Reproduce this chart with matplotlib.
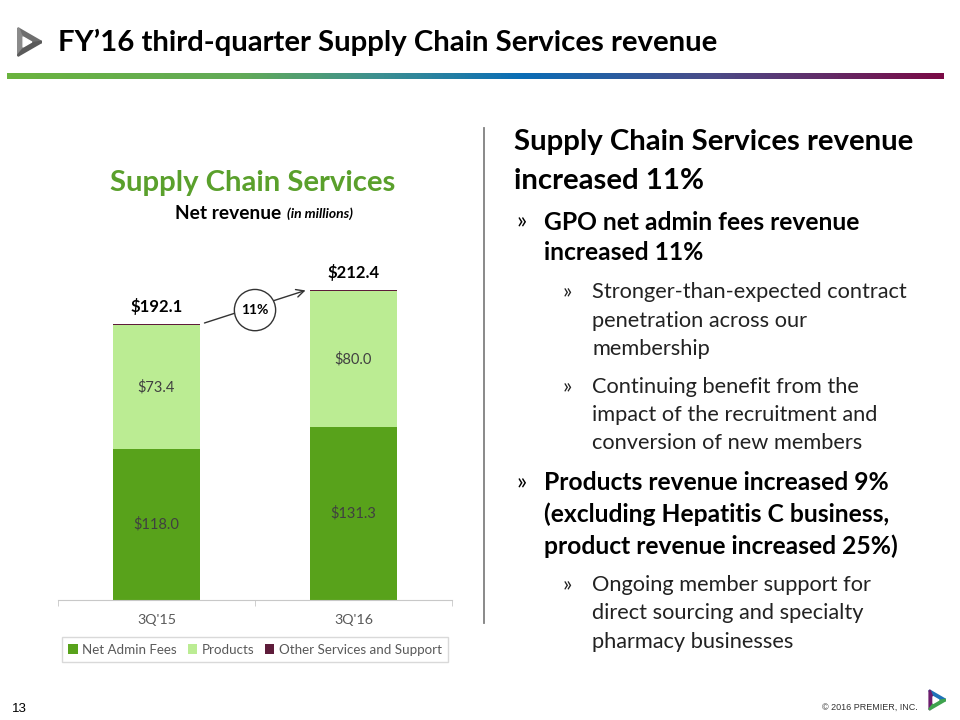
import numpy as np
import matplotlib
matplotlib.use("Agg")
import matplotlib.pyplot as plt
from matplotlib.colors import LinearSegmentedColormap
from matplotlib.patches import Polygon
from matplotlib.lines import Line2D

plt.rcParams['font.family'] = ['Lato', 'DejaVu Sans']

# data
quarters = ["3Q'15", "3Q'16"]
net_admin = [118.0, 131.3]
products = [73.4, 80.0]
totals = [192.1, 212.4]
other = [t - a - p for t, a, p in zip(totals, net_admin, products)]
growth = "11%"
series_names = ["Net Admin Fees", "Products", "Other Services and Support"]
colors = ["#58A21B", "#BBEC93", "#5E1C3A"]

W, H = 960, 720
fig = plt.figure(figsize=(9.6, 7.2), dpi=100)

def px(x, y):
    return x / W, 1 - y / H

def ftext(x, y, s, **kw):
    kw.setdefault('va', 'center')
    fig.text(*px(x, y), s, **kw)

# header
ftext(58, 42, "FY\u201916 third-quarter Supply Chain Services revenue",
      fontsize=21.2, fontweight='bold', color='black')

grad_ax = fig.add_axes([7 / W, 1 - 79 / H, 937 / W, 6 / H])
cmap = LinearSegmentedColormap.from_list("premier", [
    (0.0, "#6AB33E"), (0.25, "#62AA58"), (0.4, "#3C8F92"),
    (0.55, "#0A6DB6"), (0.75, "#4A4C89"), (1.0, "#7A0A45")])
grad_ax.imshow(np.linspace(0, 1, 256)[None, :], aspect='auto', cmap=cmap)
grad_ax.axis('off')

# logos
def logo(cx, cy, r, cols):
    ax_l = fig.add_axes([(cx - r) / W, 1 - (cy + r) / H, 2 * r / W, 2 * r / H])
    ax_l.set_xlim(-1, 1)
    ax_l.set_ylim(-1, 1)
    ax_l.axis('off')
    ang = np.deg2rad([0, 120, 240])
    outer = np.c_[np.cos(ang), np.sin(ang)] * 0.95
    for i in range(3):
        p0, p1 = outer[i], outer[(i + 1) % 3]
        m = (p0 + p1) / 2 * 0.35
        ax_l.add_patch(Polygon([p0, p1, m], closed=True, fc=cols[i], ec=cols[i],
                               lw=2, joinstyle='round'))
    ax_l.add_patch(Polygon(outer * 0.38, closed=True, fc='white', ec='white'))

logo(26, 42, 16, ["#6E6E6E", "#8A8A8A", "#5A5A5A"])
logo(935, 700, 11, ["#1E72B8", "#6D1E6E", "#3FA34D"])

# chart
ax = fig.add_axes([58 / W, 120 / H, 394 / W, 374 / H])
x = np.arange(len(quarters))
bw = 0.44
ax.bar(x, net_admin, bw, color=colors[0], label=series_names[0])
ax.bar(x, products, bw, bottom=net_admin, color=colors[1], label=series_names[1])
ax.bar(x, other, bw, bottom=np.add(net_admin, products), color=colors[2],
       label=series_names[2])
ax.set_xlim(-0.5, 1.5)
ax.set_ylim(28.7, 250)

for i in x:
    ax.text(i, (ax.get_ylim()[0] + net_admin[i]) / 2, f"${net_admin[i]:.1f}",
            ha='center', va='center', fontsize=10.5, color='#404040')
    ax.text(i, net_admin[i] + products[i] / 2, f"${products[i]:.1f}",
            ha='center', va='center', fontsize=10.5, color='#404040')
    ax.text(i, totals[i] + 5, f"${totals[i]:.1f}", ha='center', va='bottom',
            fontsize=12, fontweight='bold', color='black')

ax.annotate("", xy=(1 - bw / 2 - 0.01, totals[1]), xytext=(bw / 2 + 0.01, totals[0]),
            arrowprops=dict(arrowstyle='->', color='#333333', lw=1, mutation_scale=14))
ax.text(0.5, (totals[0] + totals[1]) / 2 - 2, growth, ha='center', va='center',
        fontsize=10, fontweight='bold', color='black',
        bbox=dict(boxstyle='circle,pad=0.5', fc='white', ec='#333333', lw=1))

for s in ['top', 'left', 'right']:
    ax.spines[s].set_visible(False)
ax.spines['bottom'].set_color('#C8C8C8')
ax.set_yticks([])
ax.set_xticks(x)
ax.set_xticklabels(quarters, fontsize=10.3, color='#595959')
ax.tick_params(axis='x', which='major', length=0, pad=10)
ax.set_xticks([-0.5, 0.5, 1.5], minor=True)
ax.tick_params(axis='x', which='minor', length=4, color='#C8C8C8')

leg = ax.legend(loc='upper center', bbox_to_anchor=(0.5, -0.099), ncol=3,
                frameon=True, fancybox=False, edgecolor='#D0D0D0', borderaxespad=0,
                fontsize=9.6, handlelength=0.7, handleheight=0.7, handletextpad=0.35,
                columnspacing=0.8, borderpad=0.5)
for t in leg.get_texts():
    t.set_color('#595959')

# chart titles
ftext(253, 183, "Supply Chain Services", ha='center', fontsize=21.1,
      fontweight='bold', color='#5AA02C')
ftext(281, 213, "Net revenue", ha='right', fontsize=13.8, fontweight='bold')
ftext(287, 214, "(in millions)", ha='left', fontsize=10, fontweight='bold',
      style='italic')

# divider
fig.add_artist(Line2D([484 / W, 484 / W], [1 - 128 / H, 1 - 623 / H],
                      color='#808080', lw=1.3))

# right-hand text
ftext(514, 142, "Supply Chain Services revenue", fontsize=21.2, fontweight='bold')
ftext(514, 181, "increased 11%", fontsize=21.2, fontweight='bold')

bold_lines = [
    (222, "GPO net admin fees revenue", True),
    (253, "increased 11%", False),
    (483, "Products revenue increased 9%", True),
    (514, "(excluding Hepatitis C business,", False),
    (546, "product revenue increased 25%)", False),
]
for y, s, bullet in bold_lines:
    if bullet:
        ftext(516, y, "\u00bb", fontsize=17, color='black')
    ftext(544, y, s, fontsize=17.7, fontweight='bold')

sub_lines = [
    (292, "Stronger-than-expected contract", True),
    (321, "penetration across our", False),
    (349, "membership", False),
    (387, "Continuing benefit from the", True),
    (415, "impact of the recruitment and", False),
    (443, "conversion of new members", False),
    (585, "Ongoing member support for", True),
    (613, "direct sourcing and specialty", False),
    (642, "pharmacy businesses", False),
]
for y, s, bullet in sub_lines:
    if bullet:
        ftext(563, y, "\u00bb", fontsize=15.5, color='#222222')
    ftext(592, y, s, fontsize=15.7, color='#222222')

# footer
ftext(12, 709, "13", fontsize=9.5, family='Liberation Sans')
ftext(918, 707, "\u00a9 2016 PREMIER, INC.", ha='right', fontsize=6.5,
      family='Liberation Sans', color='#333333')

fig.savefig("out.png", dpi=100)
